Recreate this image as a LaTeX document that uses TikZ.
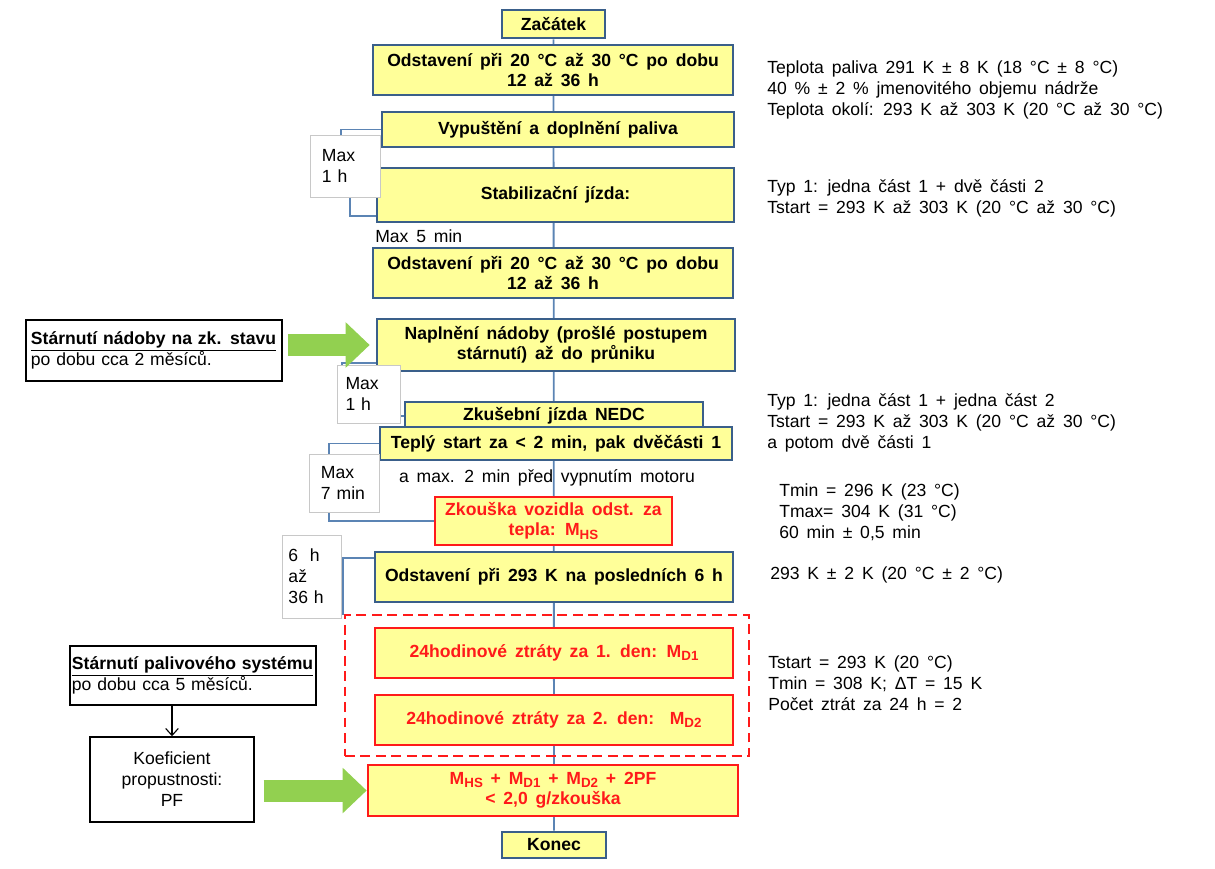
\documentclass[tikz,border=0pt]{standalone}
\usepackage{fontspec}
\setmainfont{Liberation Sans}[WordSpace=1.6]
\usetikzlibrary{arrows.meta,backgrounds}

\definecolor{boxfill}{HTML}{FFFF99}
\definecolor{boxline}{HTML}{3A5F8A}
\definecolor{flowline}{HTML}{5B84B4}
\definecolor{redline}{HTML}{FF1A1A}
\definecolor{arrowgreen}{HTML}{92D050}
\definecolor{pauseline}{HTML}{C8C8C8}

\newcommand{\lowsub}[1]{\raisebox{-0.35ex}{\fontsize{9.5}{10}\selectfont #1}}

\tikzset{
  stage/.style={draw=boxline, fill=boxfill, line width=1.8pt, align=center,
    inner sep=2pt, font=\bfseries\fontsize{12.5}{14.5}\selectfont},
  check/.style={stage, draw=redline, text=redline},
  pause/.style={draw=pauseline, fill=white, line width=0.6pt, align=left,
    text width=1.15cm, inner sep=0pt, font=\fontsize{12.5}{15}\selectfont},
  aging/.style={draw=black, line width=1.3pt, align=left, inner sep=0pt,
    font=\fontsize{12.5}{15}\selectfont},
  note/.style={align=left, inner sep=0pt, font=\fontsize{12.5}{14.8}\selectfont},
  flow/.style={draw=flowline, line width=1.3pt},
  bigarrow/.style={draw=arrowgreen, line width=0.55cm,
    -{Triangle[length=0.6cm,width=1.1cm]}}
}

\begin{document}
\begin{tikzpicture}[x=0.025cm, y=-0.025cm]
\useasboundingbox (0,0) rectangle (1215,868);

% main column
\node[stage, minimum width=2.575cm, minimum height=0.7cm] (start) at (553.5,24) {Začátek};
\node[stage, minimum width=9cm, minimum height=1.25cm] (soak1) at (553,70)
  {Odstavení při 20 °C až 30 °C po dobu\\12 až 36 h};
\node[stage, minimum width=8.8cm, minimum height=0.875cm] (drain) at (558,129.5)
  {Vypuštění a doplnění paliva};
\node[stage, minimum width=8.925cm, minimum height=1.35cm] (precon) at (555.5,195)
  {Stabilizační jízda:};
\node[note, anchor=west] (gap5) at (375,236) {Max 5 min};
\node[stage, minimum width=9cm, minimum height=1.25cm] (soak2) at (553,273)
  {Odstavení při 20 °C až 30 °C po dobu\\12 až 36 h};
\node[stage, minimum width=8.95cm, minimum height=1.3cm] (fill) at (556,345)
  {Naplnění nádoby (prošlé postupem\\stárnutí) až do průniku};
\node[stage, minimum width=7.45cm, minimum height=0.7cm] (nedc) at (554,416)
  {Zkušební jízda NEDC};
\node[stage, minimum width=8.8cm, minimum height=0.825cm] (warm) at (556,443.5)
  {Teplý start za < 2 min, pak dvěčásti 1};
\node[note, align=center] (motor) at (547,478) {a max. 2 min před vypnutím motoru};
\node[check, minimum width=5.925cm, minimum height=1.2cm] (hotsoak) at (553.5,521)
  {Zkouška vozidla odst. za\\tepla: M\lowsub{HS}};
\node[stage, minimum width=8.95cm, minimum height=1.25cm] (soak3) at (554,577)
  {Odstavení při 293 K na posledních 6 h};
\node[draw=redline, line width=1.8pt, dash pattern=on 7pt off 4pt,
  minimum width=10.1cm, minimum height=3.525cm] (loss) at (547,685.5) {};
\node[check, minimum width=8.95cm, minimum height=1.25cm] (day1) at (554,653)
  {24hodinové ztráty za 1. den: M\lowsub{D1}};
\node[check, minimum width=8.95cm, minimum height=1.25cm] (day2) at (554,720)
  {24hodinové ztráty za 2. den:~~M\lowsub{D2}};
\node[check, minimum width=9.25cm, minimum height=1.275cm] (result) at (553,790.5)
  {M\lowsub{HS} + M\lowsub{D1} + M\lowsub{D2} + 2PF\\< 2,0 g/zkouška};
\node[stage, minimum width=2.6cm, minimum height=0.65cm] (end) at (554,845) {Konec};

% time limits
\node[pause, minimum width=1.75cm, minimum height=1.55cm] (wait1) at (345,166) {Max\\1 h};
\node[pause, minimum width=1.575cm, minimum height=1.45cm] (wait2) at (368.5,394) {Max\\1 h};
\node[pause, minimum width=1.75cm, minimum height=1.45cm] (wait3) at (344,483) {Max\\7 min};
\node[pause, minimum width=1.475cm, minimum height=2.075cm] (wait4) at (311.5,576.5) {6~~h\\až\\36 h};

% aging
\node[aging, minimum width=6.4cm, minimum height=1.525cm, text width=6.15cm] (canister) at (154,350.5)
  {\underline{\textbf{Stárnutí nádoby na zk. stavu}}\\po dobu cca 2 měsíců.};
\node[aging, minimum width=6.15cm, minimum height=1.475cm, text width=6.05cm] (fuelsys) at (193,675.5)
  {\underline{\textbf{Stárnutí palivového systému}}\\po dobu cca 5 měsíců.};
\node[aging, line width=1pt, align=center, minimum width=4.1cm, minimum height=2.125cm] (pf) at (172,779.5)
  {Koeficient\\propustnosti:\\PF};

% conditions
\node[note, anchor=west] (cond1) at (767,90)
  {Teplota paliva 291 K ± 8 K (18 °C ± 8 °C)\\40 \% ± 2 \% jmenovitého objemu nádrže\\Teplota okolí: 293 K až 303 K (20 °C až 30 °C)};
\node[note, anchor=west] (cond2) at (767,198)
  {Typ 1: jedna část 1 + dvě části 2\\Tstart = 293 K až 303 K (20 °C až 30 °C)};
\node[note, anchor=west] (cond3) at (767,423)
  {Typ 1: jedna část 1 + jedna část 2\\Tstart = 293 K až 303 K (20 °C až 30 °C)\\a potom dvě části 1};
\node[note, anchor=west] (cond4) at (779,512.5)
  {Tmin = 296 K (23 °C)\\Tmax= 304 K (31 °C)\\60 min ± 0,5 min};
\node[note, anchor=west] (cond5) at (770,575) {293 K ± 2 K (20 °C ± 2 °C)};
\node[note, anchor=west] (cond6) at (768,683)
  {Tstart = 293 K (20 °C)\\Tmin = 308 K; ΔT = 15 K\\Počet ztrát za 24 h = 2};

\begin{scope}[on background layer]
\draw[flow] (start.south) -- (end.north);
\draw[flow] (drain.west) -- ++(-40,0) -- ++(0,40) -- ++(9,0) |- ([yshift=0.175cm]precon.south west);
\draw[flow] ([yshift=0.225cm]fill.south west) -- ++(-34,0) |- (nedc.west);
\draw[flow] (warm.west) -- ++(-50,0) |- (hotsoak.west);
\draw[flow] ([yshift=0.475cm]soak3.west) -- ++(-31,0) |- (loss.north west);
\end{scope}

\draw[bigarrow, shorten <=0.125cm, shorten >=0.15cm] (canister.east |- fill.west) -- (fill.west);
\draw[bigarrow, shorten <=0.225cm] (pf.east |- result.west) -- (result.west);
\draw[-{Straight Barb[length=5pt,width=9pt]}, line width=0.8pt] (pf.north |- fuelsys.south) -- (pf.north);
\end{tikzpicture}
\end{document}
